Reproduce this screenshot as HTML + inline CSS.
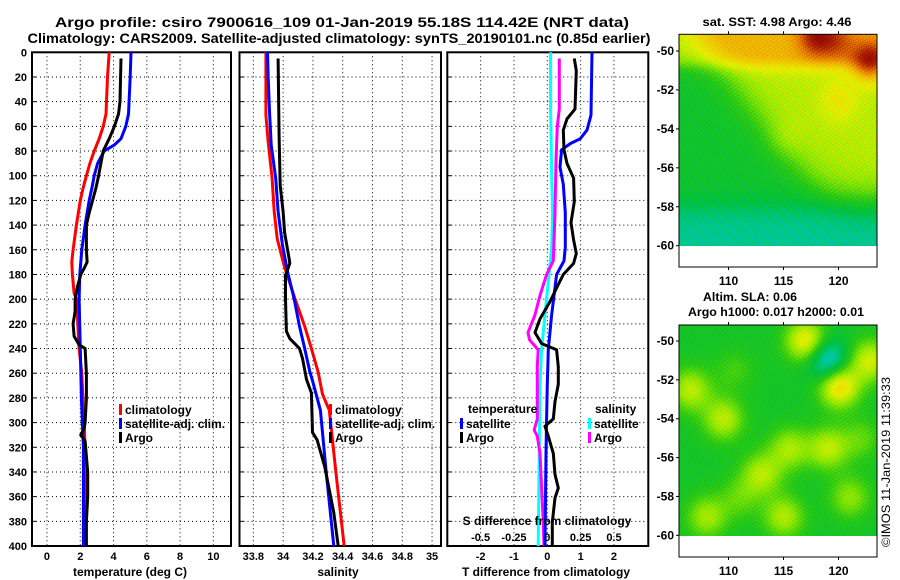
<!DOCTYPE html>
<html><head><meta charset="utf-8">
<style>
html,body{margin:0;padding:0;background:#fff;}
#wrap{position:relative;width:900px;height:580px;overflow:hidden;font-family:"Liberation Sans",sans-serif;}
svg{position:absolute;left:0;top:0;}
canvas{position:absolute;image-rendering:pixelated;}
text{font-family:"Liberation Sans",sans-serif;font-weight:bold;fill:#000;}
</style></head>
<body>
<div id="wrap">
<canvas id="mapTop" width="198" height="212" style="left:679px;top:34px;width:198px;height:212px"></canvas>
<canvas id="mapBot" width="198" height="211" style="left:679px;top:325px;width:198px;height:211px"></canvas>
<svg id="fig" width="900" height="580" viewBox="0 0 900 580">
<text x="342" y="27" text-anchor="middle" font-size="14" textLength="574" lengthAdjust="spacingAndGlyphs">Argo profile: csiro 7900616_109 01-Jan-2019 55.18S 114.42E (NRT data)</text>
<text x="339" y="43" text-anchor="middle" font-size="14" textLength="623" lengthAdjust="spacingAndGlyphs">Climatology: CARS2009. Satellite-adjusted climatology: synTS_20190101.nc (0.85d earlier)</text>
<text x="777" y="26" text-anchor="middle" font-size="12" textLength="149" lengthAdjust="spacingAndGlyphs">sat. SST: 4.98 Argo: 4.46</text>
<text x="750" y="301" text-anchor="middle" font-size="12" textLength="94" lengthAdjust="spacingAndGlyphs">Altim. SLA: 0.06</text>
<text x="776" y="316" text-anchor="middle" font-size="12" textLength="176" lengthAdjust="spacingAndGlyphs">Argo h1000: 0.017 h2000: 0.01</text>
<text transform="translate(890,462) rotate(-90)" text-anchor="middle" font-size="12" style="font-weight:normal" textLength="170" lengthAdjust="spacingAndGlyphs">©IMOS 11-Jan-2019 11:39:33</text>
<g id="plots"></g>
</svg>
</div>
<script>
// ---------- data ----------
const depthTicks=[0,20,40,60,80,100,120,140,160,180,200,220,240,260,280,300,320,340,360,380,400];
const tempTicks=[0,2,4,6,8,10];
const salTicks=[33.8,34,34.2,34.4,34.6,34.8,35];
const tdiffTicks=[-2,-1,0,1,2];
const sdiffTicks=[-0.5,-0.25,0,0.25,0.5];
const sdiffLabels=["-0.5","-0.25","0","0.25","0.5"];

const climTDepth=[0,20,40,50,60,70,80,90,100,110,120,140,160,170,180,195,200,220,240,260,300,320,400];
const climT=[3.74,3.64,3.58,3.55,3.38,3.14,2.84,2.58,2.37,2.17,2.0,1.77,1.57,1.49,1.53,1.63,1.77,1.85,1.93,2.09,2.23,2.29,2.33];
const satTDepth=[0,20,50,60,70,75,80,90,100,110,120,140,160,180,200,240,280,300,320,400];
const satT=[5.05,5.0,4.9,4.74,4.45,4.05,3.44,3.04,2.84,2.70,2.54,2.29,2.09,1.97,1.93,2.0,2.07,2.13,2.19,2.19];
const argoTDepth=[5,40,50,60,70,80,90,100,110,120,130,140,160,170,175,180,190,200,210,220,230,237,240,260,280,300,305,310,315,340,360,380,400];
const argoT=[4.45,4.39,4.30,4.05,3.74,3.38,3.24,3.1,2.94,2.74,2.54,2.37,2.37,2.41,2.23,2.03,1.83,1.69,1.69,1.57,1.63,1.93,2.29,2.37,2.37,2.29,2.23,2.03,2.29,2.45,2.45,2.37,2.37];

const climSDepth=[0,21,51,73,102,129,151,173,200,222,240,259,266,277,290,341,400];
const climS=[33.884,33.884,33.884,33.90,33.926,33.94,33.96,34.007,34.08,34.145,34.19,34.235,34.246,34.264,34.31,34.355,34.41];
const satSDepth=[0,21,51,75,102,129,156,178,200,222,240,259,266,290,341,400];
const satS=[33.895,33.9,33.91,33.92,33.95,33.966,33.995,34.03,34.074,34.11,34.145,34.18,34.197,34.25,34.29,34.34];
const argoSDepth=[5,68,108,129,146,167,171,181,200,226,232,240,248,265,276,308,314,336,373,400];
const argoS=[33.966,33.973,33.98,34.0,34.01,34.04,34.045,34.016,34.016,34.022,34.045,34.11,34.13,34.157,34.19,34.197,34.228,34.28,34.34,34.37];

const satTdDepth=[0,51,63,70,74,79,93,107,130,158,169,180,213,241,269,297,325,400];
const satTd=[1.34,1.31,1.19,0.99,0.69,0.43,0.38,0.48,0.54,0.54,0.50,0.28,0.13,0.03,0,-0.02,-0.04,-0.07];
const argoTdDepth=[5,15,46,54,63,79,90,102,121,138,152,163,171,180,191,202,216,227,236,241,255,269,283,297,303,311,325,342,353,361,381,400];
const argoTd=[0.81,0.87,0.83,0.59,0.48,0.5,0.59,0.79,0.81,0.71,0.79,0.87,0.79,0.48,0.28,0.08,-0.22,-0.37,-0.17,0.28,0.33,0.33,0.23,0.18,-0.07,0.03,0.18,0.23,0.33,0.23,0.15,0.15];
const satSdDepth=[0,46,102,130,158,185,213,241,269,400];
const satSd=[0.025,0.025,0.033,0.04,0.033,0.008,-0.018,-0.043,-0.055,-0.068];
const argoSdDepth=[5,46,60,88,130,169,180,197,213,227,233,241,255,297,306,311,325,353,381,400];
const argoSd=[0.09,0.09,0.075,0.065,0.058,0.045,-0.005,-0.055,-0.093,-0.145,-0.133,-0.068,-0.075,-0.075,-0.098,-0.075,-0.055,-0.043,-0.03,-0.025];

const mapLatTicks=[-50,-52,-54,-56,-58,-60];
const mapLonTicks=[110,115,120];
const sstBlobs=[[118,-49.2,0.2],[122.8,-50.5,0.22],[120,-49.5,0.1],[120,-52.5,0.06],[115,-54.5,0.03]];
const slaBlobs=[[117,-50,0.22],[119,-51,-0.2],[120,-52.3,0.25],[106.5,-52.5,0.16],[109.5,-54,0.16],[115.5,-55.5,0.14],[119,-55.5,0.16],[113,-56.8,0.15],[108,-59,0.14],[115,-59,0.15],[122.8,-51,0.18],[121,-58,0.12],[122,-55,0.08],[110.5,-51.5,0.06],[111,-58,0.08]];

// ---------- helpers ----------
const NS="http://www.w3.org/2000/svg";
const root=document.getElementById('plots');
function mk(tag,attrs,parent){const e=document.createElementNS(NS,tag);for(const k in attrs)e.setAttribute(k,attrs[k]);(parent||root).appendChild(e);return e;}
const Y0=52.3,Y1=546;
function yD(d){return Y0+(d/400)*(Y1-Y0);}

function panel(name,x0,x1,dmin,dmax,ticks,labels,showY,xlabel,xlabelX){
  const g=mk('g',{});
  
  
  const sx=v=>x0+(v-dmin)/(dmax-dmin)*(x1-x0);
  ticks.forEach((t,i)=>{
    const x=sx(t);
    const l=mk('line',{x1:x,x2:x,y1:Y0,y2:Y1,stroke:'#000','stroke-width':1,'stroke-dasharray':'1,3'},g);
    
    
    const tx=mk('text',{x:x,y:560,'text-anchor':'middle','font-size':11},g);
    tx.textContent=labels?labels[i]:String(t);
    
    
  });
  depthTicks.forEach(d=>{
    const y=yD(d);
    if(d>0&&d<400){
      const l=mk('line',{x1:x0,x2:x1,y1:y,y2:y,stroke:'#000','stroke-width':1,'stroke-dasharray':'1,3'},g);
      
      
    }
    mk('line',{x1:x0,x2:x0+4,y1:y,y2:y,stroke:'#000','stroke-width':1},g);
    if(showY){
      const tx=mk('text',{x:27,y:y+4,'text-anchor':'end','font-size':11},g);
      tx.textContent=String(d);
      
      
    }
  });
  const fr=mk('rect',{x:x0,y:Y0,width:x1-x0,height:Y1-Y0,fill:'none',stroke:'#000','stroke-width':2},g);
  
  
  const xl=mk('text',{x:xlabelX,y:576,'text-anchor':'middle','font-size':12},g);
  xl.textContent=xlabel;
  
  
  return {g,sx};
}
function series(p,depths,vals,color,name){
  const pts=depths.map((d,i)=>p.sx(vals[i]).toFixed(1)+','+yD(d).toFixed(1)).join(' ');
  const l=mk('polyline',{points:pts,fill:'none',stroke:color,'stroke-width':3,'stroke-linejoin':'miter'},p.g);
  
  
}
function legend(g,x,y,color,label,name){
  const r=mk('rect',{x:x,y:y-9,width:3,height:11,fill:color},g);
  
  
  const t=mk('text',{x:x+6,y:y+1,'font-size':12},g);
  t.textContent=label;
  
  
}

const p1=panel('temperature-panel',32,231,-0.9,11.06,tempTicks,null,true,'temperature (deg C)',130);
series(p1,climTDepth,climT,'#f00','climatology-temp-line');
series(p1,satTDepth,satT,'#00f','satellite-temp-line');
series(p1,argoTDepth,argoT,'#000','argo-temp-line');
legend(p1.g,119,413,'#f00','climatology','legend-climatology');
legend(p1.g,119,427,'#00f','satellite-adj. clim.','legend-satellite');
legend(p1.g,119,441,'#000','Argo','legend-argo');

const p2=panel('salinity-panel',239.5,441,33.707,35.06,salTicks,null,false,'salinity',338);
series(p2,climSDepth,climS,'#f00','climatology-sal-line');
series(p2,satSDepth,satS,'#00f','satellite-sal-line');
series(p2,argoSDepth,argoS,'#000','argo-sal-line');
legend(p2.g,329,413,'#f00','climatology','legend-climatology-sal');
legend(p2.g,329,427,'#00f','satellite-adj. clim.','legend-satellite-sal');
legend(p2.g,329,441,'#000','Argo','legend-argo-sal');

const p3=panel('difference-panel',447.3,648.3,-3.0,3.03,tdiffTicks,null,false,'T difference from climatology',546);
const sxS=v=>p3.sx(v*4);
function seriesS(depths,vals,color,name){
  const pts=depths.map((d,i)=>sxS(vals[i]).toFixed(1)+','+yD(d).toFixed(1)).join(' ');
  const l=mk('polyline',{points:pts,fill:'none',stroke:color,'stroke-width':3},p3.g);
  
  
}
seriesS(satSdDepth,satSd,'#0ff','satellite-sal-diff-line');
seriesS(argoSdDepth,argoSd,'#f0f','argo-sal-diff-line');
series(p3,satTdDepth,satTd,'#00f','satellite-temp-diff-line');
series(p3,argoTdDepth,argoTd,'#000','argo-temp-diff-line');
{
  const t=mk('text',{x:547,y:525,'text-anchor':'middle','font-size':12},p3.g);
  t.textContent='S difference from climatology';
  
  
  sdiffTicks.forEach((v,i)=>{
    const tx=mk('text',{x:sxS(v),y:541,'text-anchor':'middle','font-size':11},p3.g);
    tx.textContent=sdiffLabels[i];
    
    
  });
  const h1=mk('text',{x:468,y:413,'font-size':12},p3.g);
  h1.textContent='temperature';
  
  
  const h2=mk('text',{x:595,y:413,'font-size':12},p3.g);
  h2.textContent='salinity';
  
  
  legend(p3.g,460,427,'#00f','satellite','legend-temp-satellite');
  legend(p3.g,460,441,'#000','Argo','legend-temp-argo');
  legend(p3.g,588,427,'#0ff','satellite','legend-sal-satellite');
  legend(p3.g,588,441,'#f0f','Argo','legend-sal-argo');
}

// ---------- maps ----------
const LON0=105.5,LON1=123.5;
function mapFrame(name,top,bottom,lat50y,lat60y){
  const g=mk('g',{});
  
  
  const fr=mk('rect',{x:679,y:top,width:198,height:bottom-top,fill:'none',stroke:'#000','stroke-width':1},g);
  
  
  mapLatTicks.forEach(l=>{
    const y=lat50y+(l+50)/(-10)*(lat60y-lat50y);
    mk('line',{x1:676,x2:679,y1:y,y2:y,stroke:'#000'},g);
    const t=mk('text',{x:674,y:y+4,'text-anchor':'end','font-size':12},g);
    t.textContent=String(l);
    
    
  });
  mapLonTicks.forEach(l=>{
    const x=679+(l-LON0)/(LON1-LON0)*198;
    mk('line',{x1:x,x2:x,y1:bottom,y2:bottom+3,stroke:'#000'},g);
    mk('line',{x1:x,x2:x,y1:top,y2:top-3,stroke:'#000'},g);
    const t=mk('text',{x:x,y:bottom+18,'text-anchor':'middle','font-size':12},g);
    t.textContent=String(l);
    
    
  });
}
mapFrame('sst-map-axes',34.3,267,51,245.7);
mapFrame('sla-map-axes',325,557,341,535.3);

const cmap=[[0.25,[40,170,230]],[0.33,[0,200,170]],[0.42,[0,192,60]],[0.5,[40,200,20]],[0.58,[140,230,0]],[0.66,[230,240,0]],[0.74,[240,190,0]],[0.82,[230,120,0]],[0.92,[170,30,0]],[1.0,[140,0,0]]];
function col(v){
  if(v<=cmap[0][0])return cmap[0][1];
  for(let i=1;i<cmap.length;i++){if(v<=cmap[i][0]){const a=cmap[i-1],b=cmap[i];const f=(v-a[0])/(b[0]-a[0]);return a[1].map((c,k)=>Math.round(c+(b[1][k]-c)*f));}}
  return cmap[cmap.length-1][1];
}
function drawMap(id,latTop,latBot,blobs,base,sl,sa,noise,fn){
  const c=document.getElementById(id),ctx=c.getContext('2d');
  const W=c.width,H=c.height,img=ctx.createImageData(W,H);
  for(let y=0;y<H;y++)for(let x=0;x<W;x++){
    const lon=LON0+x/W*(LON1-LON0),lat=latTop+y/H*(latBot-latTop);
    let v=base+fn(lon,lat);
    blobs.forEach(b=>{v+=b[2]*Math.exp(-((lon-b[0])**2/sl+(lat-b[1])**2/sa));});
    v+=noise*(Math.sin(x*0.9+y*2.3)*Math.cos(x*0.31-y*0.7)+0.5*Math.sin(x*2.7+y*0.45));
    const cc=col(v),i=(y*W+x)*4;
    img.data[i]=cc[0];img.data[i+1]=cc[1];img.data[i+2]=cc[2];img.data[i+3]=255;
  }
  ctx.putImageData(img,0,0);
}
const sig=z=>1/(1+Math.exp(-z));
drawMap('mapTop',-49.1,-60,sstBlobs,0.45,2.5,1.0,0.025,(lon,lat)=>{
  const lonB=111.5+(-52.5-lat)*1.4;
  let v=0.17*sig((lon-lonB)/1.2)*sig((lat+57.5)/0.6);
  v+=0.15*sig((lat+50.7)/0.25);
  v-=0.1*sig((-58-lat)/0.4);
  return Math.min(v,0.3);
});
drawMap('mapBot',-49.2,-60,slaBlobs,0.46,3.5,1.2,0.02,()=>0);
</script>
</body></html>
